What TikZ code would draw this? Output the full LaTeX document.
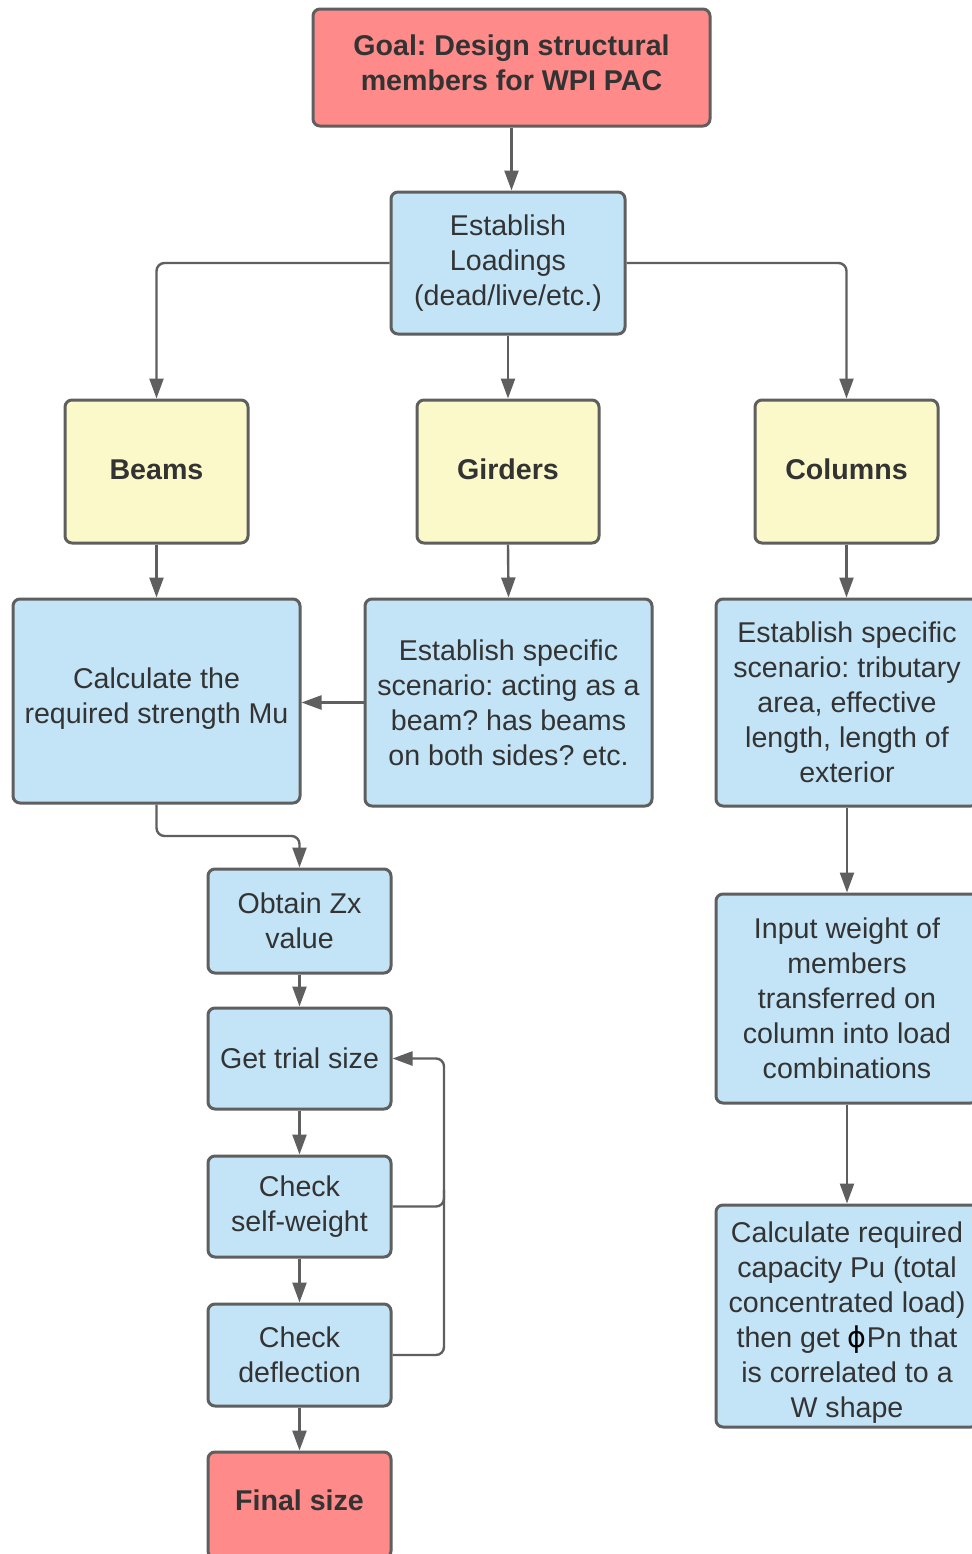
\documentclass[tikz,border=0pt]{standalone}
\usepackage{fontspec}
\setmainfont{Liberation Sans}
\newfontfamily\phifont{DejaVu Sans}
\usetikzlibrary{arrows.meta}
\definecolor{redfill}{HTML}{FF8A8A}
\definecolor{bluefill}{HTML}{C3E4F6}
\definecolor{yellowfill}{HTML}{FBF9CA}
\definecolor{edgegray}{HTML}{5F5F5F}
\definecolor{txtgray}{HTML}{333333}
\frenchspacing
\begin{document}
\begin{tikzpicture}[x=0.5pt,y=-0.5pt,
  box/.style={draw=edgegray, line width=1.5pt, rounded corners=3.5pt, inner sep=0pt,
    align=center, text=txtgray, font=\fontsize{14.3}{17.5}\selectfont},
  redbox/.style={box, fill=redfill, font=\fontsize{14.3}{17.5}\selectfont\bfseries},
  bluebox/.style={box, fill=bluefill},
  yellowbox/.style={box, fill=yellowfill, font=\fontsize{14.3}{17.5}\selectfont\bfseries},
  lbl/.style={inner sep=0pt, align=center, text=txtgray, font=\fontsize{14.3}{17.5}\selectfont},
  blbl/.style={lbl, font=\fontsize{14.3}{17.5}\selectfont\bfseries},
  conn/.style={draw=edgegray, line width=1.2pt, rounded corners=4pt,
    -{Triangle[length=10pt,width=7pt]}},
  plain/.style={draw=edgegray, line width=1.2pt, rounded corners=4pt}
]
\clip (0,0) rectangle (972,1554);
\fill[white] (0,0) rectangle (972,1554);

\node[redbox, minimum width=198.5pt, minimum height=58.5pt,
  label={[blbl, yshift=2.2pt]center:{Goal: Design structural\\members for WPI PAC}}] (goal) at (511.5,67.5) {};
\node[bluebox, minimum width=117pt, minimum height=71pt] (load) at (508,263)
  {Establish\\Loadings\\(dead/live/etc.)};
\node[yellowbox, minimum width=91.5pt, minimum height=71.5pt,
  label={[blbl, yshift=1pt]center:Beams}] (beams) at (156.5,471.5) {};
\node[yellowbox, minimum width=91pt, minimum height=71.5pt,
  label={[blbl, yshift=1pt]center:Girders}] (girders) at (508,471.5) {};
\node[yellowbox, minimum width=91.5pt, minimum height=71.5pt,
  label={[blbl, yshift=1pt]center:Columns}] (columns) at (846.5,471.5) {};

\node[bluebox, minimum width=143.5pt, minimum height=102pt,
  label={[lbl, yshift=1pt]center:{Calculate the\\required strength Mu}}] (mu) at (156.5,701) {};
\node[bluebox, minimum width=143.5pt, minimum height=103.5pt] (gscen) at (508.5,702.5)
  {Establish specific\\scenario: acting as a\\beam? has beams\\on both sides? etc.};
\node[bluebox, minimum width=131pt, minimum height=103.5pt] (cscen) at (847,702.5)
  {Establish specific\\scenario: tributary\\area, effective\\length, length of\\exterior};

\node[bluebox, minimum width=91.5pt, minimum height=52pt] (zx) at (299.5,921)
  {Obtain Zx\\value};
\node[bluebox, minimum width=91.5pt, minimum height=50.5pt] (trial) at (299.5,1058.5)
  {Get trial size};
\node[bluebox, minimum width=91.5pt, minimum height=50.5pt] (self) at (299.5,1206.5)
  {Check\\self-weight};
\node[bluebox, minimum width=91.5pt, minimum height=51pt] (defl) at (299.5,1355)
  {Check\\deflection};
\node[redbox, minimum width=91.5pt, minimum height=53pt,
  label={[blbl, yshift=2.5pt]center:Final size}] (final) at (299.5,1505) {};

\node[bluebox, minimum width=131pt, minimum height=104.5pt] (input) at (847,998.5)
  {Input weight of\\members\\transferred on\\column into load\\combinations};
\node[bluebox, minimum width=131pt, minimum height=111pt,
  label={[lbl, yshift=-3.5pt]center:{Calculate required\\capacity Pu (total\\concentrated load)\\then get {\phifont\color{black}ϕ}Pn that\\is correlated to a\\W shape}}] (pu) at (847,1316) {};

% connectors
\draw[conn] (goal.south) -- (goal.south |- load.north);
\draw[conn] (load.west) -| (beams.north);
\draw[conn] (load.south) -- (girders.north);
\draw[conn] (load.east) -| (columns.north);
\draw[conn] (beams.south) -- (mu.north);
\draw[conn] (girders.south) -- (gscen.north);
\draw[conn] (columns.south) -- (cscen.north -| columns.south);
\draw[conn] (gscen.west) -- (mu.east |- gscen.west);
\coordinate (mubend) at (156.5,836);
\draw[conn] (mu.south) -- (mubend) -| (zx.north);
\draw[conn] (zx.south) -- (trial.north);
\draw[conn] (trial.south) -- (self.north);
\draw[conn] (self.south) -- (defl.north);
\draw[conn] (defl.south) -- (final.north);
\coordinate (loopx) at (444,1058.5);
\draw[conn] (self.east) -| (loopx) -- (trial.east);
\draw[plain] (defl.east) -| (444,1190);
\draw[conn] (cscen.south) -- (input.north);
\draw[conn] (input.south) -- (pu.north);
\end{tikzpicture}
\end{document}
